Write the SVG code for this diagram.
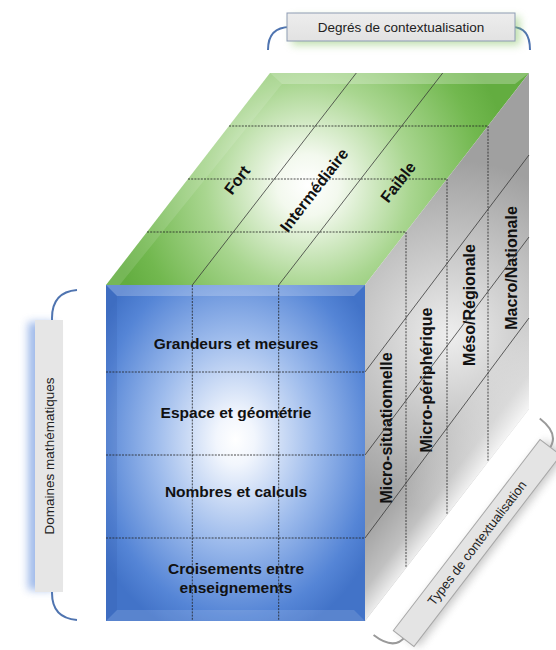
<svg xmlns="http://www.w3.org/2000/svg" width="556" height="650" viewBox="0 0 556 650">
<style>
.bold{font-family:"Liberation Sans",Arial,sans-serif;font-weight:bold;fill:#111;}
.reg{font-family:"Liberation Sans",Arial,sans-serif;fill:#222;}
.dash{stroke:#222;stroke-width:1;stroke-dasharray:2 1.2;fill:none;opacity:0.8;}
.solid{stroke:#333;stroke-width:0.9;fill:none;opacity:0.85;}
.brace-blue{stroke:#4f74b0;stroke-width:2;fill:none;}
.brace-gray{stroke:#9a9a9a;stroke-width:2;fill:none;}
.lbl{fill:url(#lblGrad);stroke:#8d9bb4;stroke-width:1;}
</style>
<defs>
<radialGradient id="frontGrad" cx="0.5" cy="0.46" r="0.62">
<stop offset="0" stop-color="#ffffff"/>
<stop offset="0.12" stop-color="#f2f6fd"/>
<stop offset="0.5" stop-color="#9dbbec"/>
<stop offset="0.85" stop-color="#5585d6"/>
<stop offset="1" stop-color="#4273c8"/>
</radialGradient>
<radialGradient id="topGrad" gradientUnits="userSpaceOnUse" cx="308" cy="185" r="205">
<stop offset="0" stop-color="#ffffff"/>
<stop offset="0.15" stop-color="#f3f9ee"/>
<stop offset="0.5" stop-color="#a9d690"/>
<stop offset="0.85" stop-color="#72b84f"/>
<stop offset="1" stop-color="#63ad40"/>
</radialGradient>
<radialGradient id="rightGrad" gradientUnits="userSpaceOnUse" cx="450" cy="335" r="175">
<stop offset="0" stop-color="#eeeeee"/>
<stop offset="0.35" stop-color="#d2d2d2"/>
<stop offset="1" stop-color="#a0a0a0"/>
</radialGradient>
<linearGradient id="fadeGrad" gradientUnits="userSpaceOnUse" x1="400" y1="481" x2="450" y2="519">
<stop offset="0" stop-color="#ffffff" stop-opacity="0"/>
<stop offset="0.6" stop-color="#ffffff" stop-opacity="0.35"/>
<stop offset="1" stop-color="#ffffff" stop-opacity="0.95"/>
</linearGradient>
<linearGradient id="lblGrad" x1="0" y1="0" x2="0" y2="1">
<stop offset="0" stop-color="#ededed"/>
<stop offset="1" stop-color="#e2e2e2"/>
</linearGradient>
<filter id="blur4" x="-50%" y="-50%" width="200%" height="200%"><feGaussianBlur stdDeviation="4"/></filter>
</defs>
<rect width="556" height="650" fill="#ffffff"/>

<g id="top-face">
<polygon points="106,285 365,285 529,73 270,73" fill="url(#topGrad)"/>
<polygon points="270,73 529,73 515,84 282,84" fill="#ffffff" opacity="0.25"/>
<polygon points="106,285 270,73 282,84 118,287" fill="#ffffff" opacity="0.12"/>
<text class="bold" font-size="16" transform="translate(237,180) rotate(-52.3)" text-anchor="middle" dy="0.35em">Fort</text>
<text class="bold" font-size="16" transform="translate(314,190) rotate(-52.3)" text-anchor="middle" dy="0.35em">Intermédiaire</text>
<text class="bold" font-size="16" transform="translate(398,182) rotate(-52.3)" text-anchor="middle" dy="0.35em">Faible</text>
</g>

<g id="right-face">
<polygon points="365,285 529,73 529,409 365,621" fill="url(#rightGrad)"/>
<polygon points="365,285 529,73 529,409 365,621" fill="url(#fadeGrad)"/>
<text class="bold" font-size="16" transform="translate(386,428) rotate(-90)" text-anchor="middle" dy="0.35em">Micro-situationnelle</text>
<text class="bold" font-size="16" transform="translate(426,380) rotate(-90)" text-anchor="middle" dy="0.35em">Micro-périphérique</text>
<text class="bold" font-size="16" transform="translate(469,305) rotate(-90)" text-anchor="middle" dy="0.35em">Méso/Régionale</text>
<text class="bold" font-size="16" transform="translate(511,268) rotate(-90)" text-anchor="middle" dy="0.35em">Macro/Nationale</text>
</g>

<g id="front-face">
<rect x="106" y="285" width="259" height="336" fill="url(#frontGrad)"/>
<polygon points="106,285 365,285 354,296 117,296" fill="#ffffff" opacity="0.22"/>
<polygon points="106,285 117,296 117,610 106,621" fill="#1a3f8a" opacity="0.1"/>
<polygon points="106,621 117,610 354,610 365,621" fill="#ffffff" opacity="0.12"/>
<text class="bold" font-size="15.5" x="236" y="349" text-anchor="middle">Grandeurs et mesures</text>
<text class="bold" font-size="15.5" x="236" y="418" text-anchor="middle">Espace et géométrie</text>
<text class="bold" font-size="15.5" x="236" y="497" text-anchor="middle">Nombres et calculs</text>
<text class="bold" font-size="15.5" x="236" y="574" text-anchor="middle">Croisements entre</text>
<text class="bold" font-size="15.5" x="236" y="593" text-anchor="middle">enseignements</text>
</g>

<g id="connectors">
<line class="dash" x1="147" y1="232" x2="406" y2="232"/>
<line class="dash" x1="188" y1="179" x2="447" y2="179"/>
<line class="dash" x1="229" y1="126" x2="488" y2="126"/>
<line class="dash" x1="406" y1="232" x2="406" y2="568"/>
<line class="dash" x1="447" y1="179" x2="447" y2="515"/>
<line class="dash" x1="488" y1="126" x2="488" y2="462"/>
<line class="solid" x1="192.3" y1="285" x2="356.3" y2="73"/>
<line class="solid" x1="278.7" y1="285" x2="442.7" y2="73"/>
<line class="dash" x1="192.3" y1="285" x2="192.3" y2="621"/>
<line class="dash" x1="278.7" y1="285" x2="278.7" y2="621"/>
<line class="dash" x1="106" y1="372" x2="365" y2="372"/>
<line class="dash" x1="106" y1="455" x2="365" y2="455"/>
<line class="dash" x1="106" y1="538" x2="365" y2="538"/>
<line class="solid" x1="365" y1="372" x2="529" y2="155"/>
<line class="solid" x1="365" y1="455" x2="529" y2="237"/>
<line class="solid" x1="365" y1="538" x2="529" y2="318"/>
</g>

<g id="label-degres">
<path class="brace-blue" d="M268,50 Q268,27 290,27 L512,27 Q530,27 530,50"/>
<rect x="292" y="17" width="228" height="28" fill="#8cc66a" opacity="0.55" filter="url(#blur4)"/>
<rect class="lbl" x="287" y="13" width="228" height="28"/>
<text class="reg" font-size="13.5" x="401" y="31.5" text-anchor="middle">Degrés de contextualisation</text>
</g>

<g id="label-domaines">
<path class="brace-blue" d="M77,290 Q52,292 52,318 L52,593 Q52,618 77,620"/>
<rect x="28" y="322" width="26" height="268" fill="#6f98e0" opacity="0.65" filter="url(#blur4)"/>
<rect x="35" y="320" width="28" height="272" fill="#e6e6e6"/>
<text class="reg" font-size="13.5" transform="translate(49,456) rotate(-90)" text-anchor="middle" dy="0.35em">Domaines mathématiques</text>
</g>

<g id="label-types" transform="translate(477,543) rotate(-52.5)">
<path class="brace-gray" d="M-136,-26 Q-136,0 -118,0 L118,0 Q137,0 137,-26"/>
<rect x="-118" y="-9" width="241" height="26" fill="#9a9a9a" opacity="0.55" filter="url(#blur4)"/>
<rect x="-120.5" y="-13" width="241" height="26" fill="#e4e4e4" stroke="#a8a8a8" stroke-width="1"/>
<text class="reg" font-size="13" x="0" y="0" text-anchor="middle" dy="0.35em">Types de contextualisation</text>
</g>
</svg>
